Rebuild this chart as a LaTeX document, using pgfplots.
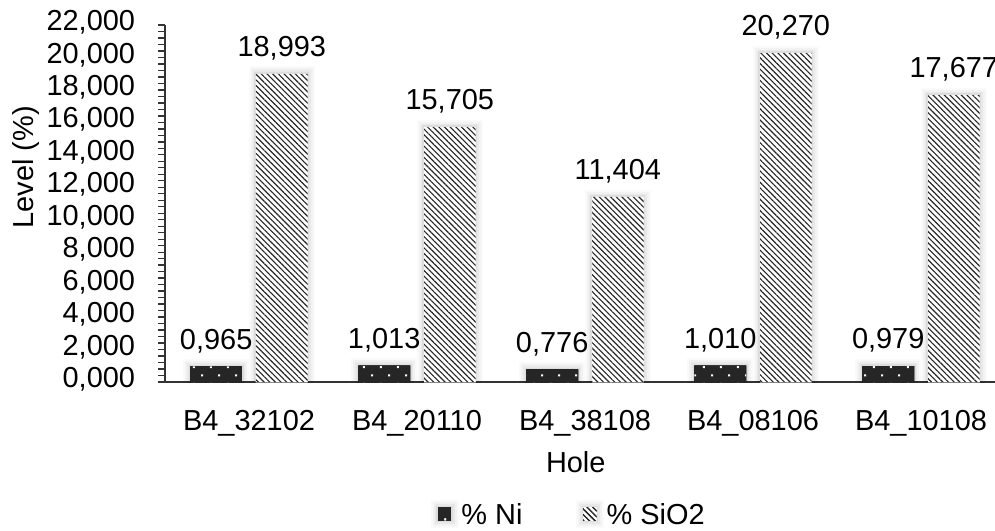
\documentclass[border=0pt]{standalone}
\usepackage{fontspec}
\setmainfont{Liberation Sans}
\usepackage{pgfplots}
\pgfplotsset{compat=1.18}
\usetikzlibrary{patterns.meta}

% staggered grid of small dots, used in white on the dark Ni bars
\pgfdeclarepattern{
  name=nidots, type=uncolored,
  bottom left={\pgfpoint{0pt}{0pt}}, top right={\pgfpoint{13pt}{12pt}},
  tile size={\pgfpoint{13pt}{12pt}},
  code={
    \pgfpathrectangle{\pgfpoint{2.2pt}{2.2pt}}{\pgfpoint{1.5pt}{1.5pt}}
    \pgfpathrectangle{\pgfpoint{8.7pt}{8.2pt}}{\pgfpoint{1.5pt}{1.5pt}}
    \pgfusepath{fill}
  }
}

\newcommand\bigfont{\fontsize{21.7}{26}\selectfont}
\definecolor{ink}{HTML}{262626}

\tikzset{
  barglow/.style={
    preaction={draw=black, draw opacity=0.02, line width=11pt},
    preaction={draw=black, draw opacity=0.03, line width=8pt},
    preaction={draw=black, draw opacity=0.04, line width=5pt},
    preaction={draw=black, draw opacity=0.05, line width=2.5pt}},
  nistyle/.style={fill=ink, draw=none, postaction={pattern=nidots, pattern color=white}},
  sistyle/.style={fill=white, draw=none,
    postaction={pattern={Lines[angle=-45, distance=3pt, line width=0.85pt]}, pattern color=ink}},
}

\begin{document}
\begin{tikzpicture}
% page frame; the plot area runs on past the right edge
\path[use as bounding box] (-123.75pt,-111.75pt) rectangle (622.5pt,286.5pt);
\begin{axis}[
  at={(0pt,0pt)}, anchor=south west, scale only axis,
  width=630pt, height=267.75pt,
  ybar, clip mode=individual,
  xmin=-0.5, xmax=4.5, ymin=0, ymax=22,
  axis x line*=bottom, axis y line*=left,
  axis line style={black!80, line width=1.1pt},
  xtick=data,
  xticklabels={B4\_32102, B4\_20110, B4\_38108, B4\_08106, B4\_10108},
  x tick style={draw=none},
  ytick={0,2,4,6,8,10,12,14,16,18,20,22}, minor y tick num=4,
  y tick style={black!80, line width=1pt},
  tick align=outside, major tick length=5.25pt, minor tick length=5.25pt,
  /pgf/number format/fixed, /pgf/number format/fixed zerofill,
  /pgf/number format/precision=3, /pgf/number format/use comma,
  /pgf/number format/assume math mode=true,
  tick label style={font=\bigfont, black},
  yticklabel style={anchor=east, inner sep=0pt, xshift=-17pt, yshift=2pt},
  xticklabel style={anchor=base, inner sep=0pt, yshift=-30.75pt},
  label style={font=\bigfont},
  xlabel={Hole},
  xlabel style={at={(axis description cs:0.489,-0.224)}, anchor=center},
  ylabel={Level (\%)},
  ylabel style={at={(axis description cs:-0.1655,0.602)}, anchor=center},
  nodes near coords,
  every node near coord/.append style={font=\bigfont, black, inner sep=0pt, yshift=10pt},
  bar width=38.7pt,
  legend style={at={(axis description cs:0.481,-0.372)}, anchor=center,
    draw=none, font=\bigfont, legend columns=2,
    /tikz/every even column/.append style={column sep=38pt}},
]
\addplot[nistyle, barglow, bar shift=-24.6pt,
  legend image code/.code={\draw[nistyle] (0pt,-4pt) rectangle (10pt,6pt);}]
  coordinates {(0,0.965) (1,1.013) (2,0.776) (3,1.010) (4,0.979)};
\addlegendentry{\% Ni}
\addplot[sistyle, barglow, bar shift=24.6pt,
  legend image code/.code={\draw[sistyle] (0pt,-4pt) rectangle (10pt,6pt);}]
  coordinates {(0,18.993) (1,15.705) (2,11.404) (3,20.270) (4,17.677)};
\addlegendentry{\% SiO2}
\end{axis}
\end{tikzpicture}
\end{document}
